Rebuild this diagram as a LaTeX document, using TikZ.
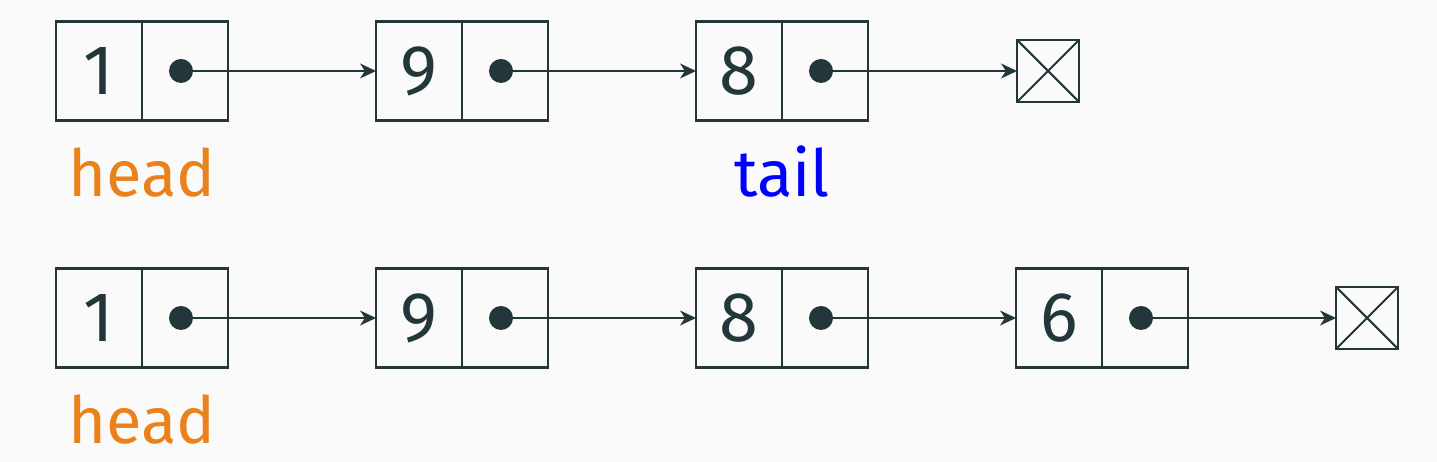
\documentclass[tikz,border=0pt]{standalone}
\usepackage{fontspec}
\setmainfont{Fira Sans}
\usetikzlibrary{arrows.meta, positioning}
\definecolor{lsDark}{HTML}{23373B}
\definecolor{lsOrange}{HTML}{EB811B}
\definecolor{lsBg}{HTML}{FAFAFA}
\begin{document}
\begin{tikzpicture}[
  cell/.style={draw=lsDark, line width=1.3pt, minimum width=1.72cm, minimum height=1.98cm,
               inner sep=0pt, outer sep=0pt, text=lsDark, font=\fontsize{40}{40}\selectfont},
  nil/.style={draw=lsDark, line width=1.2pt, minimum size=1.24cm, inner sep=0pt, outer sep=0pt},
  link/.style={draw=lsDark, line width=1.2pt, -{Stealth[length=0.32cm, width=0.3cm, inset=0.1cm]}},
  ptr/.style={fill=lsDark},
  lbl/.style={anchor=base, font=\fontsize{37}{37}\selectfont},
]
  \fill[lsBg] (0,0) rectangle (28.74,9.24);
  \useasboundingbox (0,0) rectangle (28.74,9.24);

  % list before the append
  \node[cell] (a1) at (1.98,7.82) {1};
  \node[cell, right=0pt of a1] (pa1) {};
  \node[cell, right=2.96cm of pa1] (a2) {9};
  \node[cell, right=0pt of a2] (pa2) {};
  \node[cell, right=2.96cm of pa2] (a3) {8};
  \node[cell, right=0pt of a3] (pa3) {};
  \node[nil, right=2.98cm of pa3] (za) {};
  \draw[lsDark, line width=1.2pt] (za.north west) -- (za.south east) (za.north east) -- (za.south west);

  \foreach \p in {pa1,pa2,pa3} \fill[ptr] ([xshift=-0.08cm]\p.center) circle (0.24cm);
  \draw[link] ([xshift=-0.08cm]pa1.center) -- (a2);
  \draw[link] ([xshift=-0.08cm]pa2.center) -- (a3);
  \draw[link] ([xshift=-0.08cm]pa3.center) -- (za);

  \node[lbl, text=lsOrange] (heada) at ([yshift=-1.52cm]a1.south east) {head};
  \node[lbl, text=blue] (taila) at ([yshift=-1.52cm]a3.south east) {tail};

  % list after the append
  \node[cell] (b1) at (1.98,2.88) {1};
  \node[cell, right=0pt of b1] (pb1) {};
  \node[cell, right=2.96cm of pb1] (b2) {9};
  \node[cell, right=0pt of b2] (pb2) {};
  \node[cell, right=2.96cm of pb2] (b3) {8};
  \node[cell, right=0pt of b3] (pb3) {};
  \node[cell, right=2.96cm of pb3] (b4) {6};
  \node[cell, right=0pt of b4] (pb4) {};
  \node[nil, right=2.96cm of pb4] (zb) {};
  \draw[lsDark, line width=1.2pt] (zb.north west) -- (zb.south east) (zb.north east) -- (zb.south west);

  \foreach \p in {pb1,pb2,pb3,pb4} \fill[ptr] ([xshift=-0.08cm]\p.center) circle (0.24cm);
  \draw[link] ([xshift=-0.08cm]pb1.center) -- (b2);
  \draw[link] ([xshift=-0.08cm]pb2.center) -- (b3);
  \draw[link] ([xshift=-0.08cm]pb3.center) -- (b4);
  \draw[link] ([xshift=-0.08cm]pb4.center) -- (zb);

  \node[lbl, text=lsOrange] (headb) at ([yshift=-1.52cm]b1.south east) {head};
\end{tikzpicture}
\end{document}
